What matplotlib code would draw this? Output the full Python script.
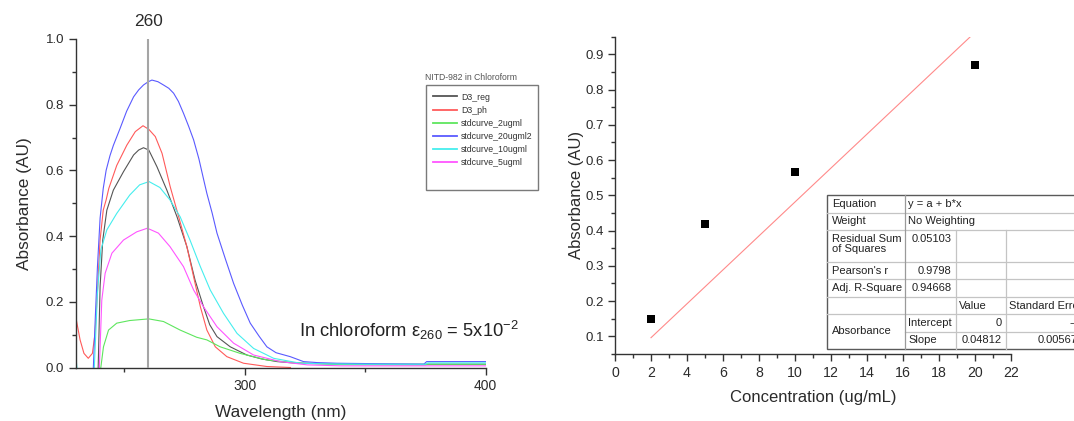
import matplotlib
matplotlib.use("Agg")
import matplotlib.pyplot as plt
from matplotlib.ticker import MultipleLocator, FormatStrFormatter
from matplotlib.patches import Rectangle

plt.rcParams['font.family'] = ['Liberation Sans', 'DejaVu Sans']
plt.rcParams['mathtext.fontset'] = 'custom'
plt.rcParams['mathtext.rm'] = 'Liberation Sans'
plt.rcParams['mathtext.it'] = 'Liberation Sans:italic'

W, H = 1074, 421
INK = '#2b2b2b'

# ---- UV spectra (wavelength nm, absorbance AU)
reg_wl = [239.2, 240.0, 241.1, 242.8, 245.5, 249.7, 253.9, 256.0, 258.0, 260.2, 263.6,
          267.7, 271.9, 276.0, 279.4, 282.9, 285.5, 288.5, 294.0, 300.9, 307.0, 313.4,
          320.0, 330.0, 345.0, 400.0]
reg_abs = [0.0, 0.246, 0.388, 0.479, 0.540, 0.596, 0.647, 0.662, 0.669, 0.662, 0.611,
           0.540, 0.459, 0.368, 0.266, 0.185, 0.130, 0.094, 0.063, 0.038, 0.026, 0.018,
           0.014, 0.012, 0.010, 0.010]

ph_wl = [230.0, 231.7, 233.3, 235.1, 236.8, 237.9, 239.0, 240.0, 241.3, 242.5, 243.6,
         246.9, 251.1, 254.6, 257.8, 260.2, 262.9, 265.7, 269.1, 272.6, 276.0, 278.8,
         281.6, 284.3, 287.8, 292.6, 299.5, 309.2, 319.0]
ph_abs = [0.150, 0.084, 0.043, 0.028, 0.043, 0.104, 0.246, 0.388, 0.479, 0.510, 0.545,
          0.615, 0.677, 0.718, 0.736, 0.725, 0.703, 0.652, 0.550, 0.459, 0.368, 0.276,
          0.185, 0.114, 0.063, 0.033, 0.013, 0.003, 0.0]

s2_wl = [240.3, 241.4, 243.5, 246.9, 252.3, 260.2, 266.3, 273.2, 280.1, 284.3, 289.8,
         298.1, 309.2, 323.1, 340.0, 375.0, 376.0, 400.0]
s2_abs = [0.0, 0.063, 0.114, 0.135, 0.143, 0.148, 0.140, 0.114, 0.092, 0.084, 0.063,
          0.043, 0.023, 0.013, 0.009, 0.008, 0.010, 0.010]

s20_wl = [237.2, 238.0, 238.9, 240.0, 241.3, 242.5, 244.1, 245.5, 248.3, 251.0, 253.9,
          256.0, 258.0, 260.0, 261.5, 264.0, 266.3, 268.5, 270.5, 272.5, 274.6, 276.7,
          278.8, 281.0, 283.0, 284.3, 286.5, 288.5, 292.0, 295.4, 299.0, 302.3, 306.0,
          309.2, 313.0, 318.9, 324.4, 330.0, 338.2, 350.0, 374.3, 375.5, 400.0]
s20_abs = [0.0, 0.15, 0.307, 0.455, 0.545, 0.600, 0.645, 0.676, 0.728, 0.780, 0.824,
           0.845, 0.860, 0.870, 0.875, 0.870, 0.860, 0.850, 0.835, 0.810, 0.774, 0.735,
           0.693, 0.635, 0.571, 0.530, 0.470, 0.409, 0.330, 0.256, 0.190, 0.135, 0.095,
           0.063, 0.045, 0.033, 0.018, 0.015, 0.013, 0.012, 0.010, 0.018, 0.018]

s10_wl = [230.0, 231.0, 236.0, 237.6, 238.9, 240.3, 242.8, 246.9, 252.3, 256.4, 260.3,
          264.8, 269.0, 273.2, 277.3, 281.6, 285.7, 291.2, 296.8, 303.7, 312.0, 323.1,
          335.0, 350.0, 375.0, 376.0, 400.0]
s10_abs = [0.03, -0.05, -0.05, 0.0, 0.226, 0.358, 0.419, 0.469, 0.525, 0.556, 0.566,
           0.548, 0.510, 0.459, 0.388, 0.307, 0.236, 0.165, 0.104, 0.058, 0.028, 0.013,
           0.011, 0.010, 0.010, 0.014, 0.014]

s5_wl = [239.7, 240.7, 242.1, 244.9, 249.7, 255.2, 259.6, 264.2, 269.0, 274.6, 278.8,
         282.9, 288.5, 295.4, 303.7, 314.8, 325.9, 340.0, 400.0]
s5_abs = [0.0, 0.205, 0.287, 0.348, 0.388, 0.413, 0.424, 0.409, 0.368, 0.307, 0.236,
          0.185, 0.124, 0.074, 0.038, 0.018, 0.008, 0.005, 0.005]

spectra = [
    ('D3_reg', reg_wl, reg_abs, '#555555'),
    ('D3_ph', ph_wl, ph_abs, '#ff5a5a'),
    ('stdcurve_2ugml', s2_wl, s2_abs, '#5ee65e'),
    ('stdcurve_20ugml2', s20_wl, s20_abs, '#5a5aff'),
    ('stdcurve_10ugml', s10_wl, s10_abs, '#45eeee'),
    ('stdcurve_5ugml', s5_wl, s5_abs, '#ff55ff'),
]
peak_wl = 260

# ---- standard curve
conc = [2, 5, 10, 20]
conc_abs = [0.148, 0.42, 0.565, 0.87]
fit_intercept = 0.0
fit_slope = 0.04812
fit_x = [2, 20]

# ---- fit report table text
stat_names = ['Equation', 'Weight', 'Residual Sum\nof Squares', "Pearson's r", 'Adj. R-Square']
stat_values = ['y = a + b*x', 'No Weighting', '0.05103', '0.9798', '0.94668']
param_header = ['Value', 'Standard Error']
param_group = 'Absorbance'
param_rows = [['Intercept', '0', '--'], ['Slope', '0.04812', '0.00567']]


def style_axes(ax):
    for side in ['top', 'right']:
        ax.spines[side].set_visible(False)
    for side in ['left', 'bottom']:
        ax.spines[side].set_linewidth(1.0)
        ax.spines[side].set_color('#333333')
    ax.tick_params(which='both', direction='out', width=1.0, color='#333333',
                   labelcolor=INK)
    ax.tick_params(which='major', length=4.8)
    ax.tick_params(which='minor', length=2.6)


fig = plt.figure(figsize=(W / 100, H / 100), dpi=100)

# ================= left: spectra
ax1 = fig.add_axes([76 / W, 1 - 367.5 / H, 409.7 / W, 328.5 / H])
style_axes(ax1)
for name, wl, ab, col in spectra:
    ax1.plot(wl, ab, color=col, lw=0.8, label=name)
ax1.axvline(peak_wl, color='#a5a5a5', lw=1.5, zorder=3)
ax1.set_xlim(230, 400)
ax1.set_ylim(0, 1.0)
ax1.xaxis.set_major_locator(MultipleLocator(100))
ax1.xaxis.set_minor_locator(MultipleLocator(50))
ax1.yaxis.set_major_locator(MultipleLocator(0.2))
ax1.yaxis.set_minor_locator(MultipleLocator(0.1))
ax1.yaxis.set_major_formatter(FormatStrFormatter('%.1f'))
ax1.tick_params(axis='y', labelsize=9.5, pad=3.8)
ax1.tick_params(axis='x', labelsize=10, pad=3.5)
ax1.set_xlabel('Wavelength (nm)', fontsize=12.4, color=INK, va='baseline')
ax1.xaxis.set_label_coords(0.5, (367.5 - 416.7) / 328.5)
ax1.set_ylabel('Absorbance (AU)', fontsize=12.4, color=INK, va='baseline')
ax1.yaxis.set_label_coords(-(76 - 28.5) / 409.7, 0.5)
ax1.annotate(str(peak_wl), xy=(peak_wl, 1.0), xytext=(0, 12.5), textcoords='offset points',
             ha='center', va='center', fontsize=12.4, color=INK)

leg = ax1.legend(loc='upper left', bbox_to_anchor=(433 / W, 1 - 92.5 / H),
                 bbox_transform=fig.transFigure, frameon=False, fontsize=6.3,
                 handlelength=2.75, handletextpad=0.45, labelspacing=0.47,
                 borderpad=0, borderaxespad=0, labelcolor='#333333')
for ln in leg.get_lines():
    ln.set_linewidth(1.3)

# ================= right: standard curve
ax2 = fig.add_axes([615 / W, 1 - 354 / H, 396 / W, 317.3 / H])
style_axes(ax2)
ax2.plot(fit_x, [fit_intercept + fit_slope * x for x in fit_x], color='#ff8a8a', lw=0.8)
ax2.plot(conc, conc_abs, 's', color='black', ms=5.3, mew=0, zorder=4)
ax2.set_xlim(0, 22)
ax2.set_ylim(0.05, 0.95)
ax2.xaxis.set_major_locator(MultipleLocator(2))
ax2.xaxis.set_minor_locator(MultipleLocator(1))
ax2.yaxis.set_major_locator(MultipleLocator(0.1))
ax2.yaxis.set_minor_locator(MultipleLocator(0.05))
ax2.yaxis.set_major_formatter(FormatStrFormatter('%.1f'))
ax2.tick_params(axis='y', labelsize=9.5, pad=3.1)
ax2.tick_params(axis='x', labelsize=10.2, pad=3.5)
ax2.set_xlabel('Concentration (ug/mL)', fontsize=12, color=INK, va='baseline')
ax2.xaxis.set_label_coords(0.5, (354 - 401.7) / 317.3)
ax2.set_ylabel('Absorbance (AU)', fontsize=12, color=INK, va='baseline')
ax2.yaxis.set_label_coords((581 - 615) / 396, 0.5)

# ================= overlay in pixel coordinates (legend frame, note, table)
ov = fig.add_axes([0, 0, 1, 1])
ov.set_xlim(0, W)
ov.set_ylim(H, 0)
ov.axis('off')

ov.text(425, 77.7, 'NITD-982 in Chloroform', fontsize=6.2, color='#555555',
        ha='left', va='center')
ov.add_patch(Rectangle((425.7, 85), 112.6, 105, fill=False, ec='#7a7a7a', lw=1.0))

ov.text(409, 336.7, r'In chloroform ε$_{260}$ = 5x10$^{-2}$', fontsize=13.2,
        color='#222222', ha='center', va='baseline')

# the report table runs past the right edge of the figure, as in the source
rows = [195, 212.7, 230, 261.7, 279.3, 297.3, 314, 331.7, 349]
cols = [827.3, 905, 956, 1006, 1086]
light = '#c4c4c4'
ov.add_patch(Rectangle((cols[0], rows[0]), cols[-1] - cols[0], rows[-1] - rows[0],
                       fc='white', ec='#5a5a5a', lw=1.0, zorder=2))
for y in rows[1:-1]:
    x0 = cols[1] if y == rows[7] else cols[0]
    ov.plot([x0, cols[-1]], [y, y], color=light, lw=0.9, zorder=3)
ov.plot([cols[1], cols[1]], [rows[0], rows[-1]], color='#9a9a9a', lw=0.9, zorder=3)
for x in cols[2:4]:
    ov.plot([x, x], [rows[2], rows[-1]], color=light, lw=0.9, zorder=3)

tfs = 8
tc = '#222222'
padl, padr = 4.4, 4.5
for i, (nm, val) in enumerate(zip(stat_names, stat_values)):
    yc = (rows[i] + rows[i + 1]) / 2
    if i == 2:
        ov.text(cols[0] + padl, rows[i] + 3.5, nm, fontsize=tfs, color=tc, ha='left',
                va='top', linespacing=1.1, zorder=4)
        ov.text(cols[2] - padr, rows[i] + 3.5, val, fontsize=tfs, color=tc, ha='right',
                va='top', zorder=4)
        continue
    ov.text(cols[0] + padl, yc, nm, fontsize=tfs, color=tc, ha='left', va='center', zorder=4)
    if i < 2:
        ov.text(cols[1] + 3.3, yc, val, fontsize=tfs, color=tc, ha='left', va='center', zorder=4)
    else:
        ov.text(cols[2] - padr, yc, val, fontsize=tfs, color=tc, ha='right', va='center', zorder=4)

yc = (rows[5] + rows[6]) / 2
for j, hd in enumerate(param_header):
    ov.text(cols[2 + j] + 3.3, yc, hd, fontsize=tfs, color=tc, ha='left', va='center', zorder=4)
ov.text(cols[0] + padl, (rows[6] + rows[8]) / 2, param_group, fontsize=tfs, color=tc,
        ha='left', va='center', zorder=4)
for k, (pname, pval, perr) in enumerate(param_rows):
    yc = (rows[6 + k] + rows[7 + k]) / 2
    ov.text(cols[1] + 3.3, yc, pname, fontsize=tfs, color=tc, ha='left', va='center', zorder=4)
    ov.text(cols[3] - padr, yc, pval, fontsize=tfs, color=tc, ha='right', va='center', zorder=4)
    ov.text(cols[4] - 9, yc, perr, fontsize=tfs, color=tc, ha='right', va='center', zorder=4)

fig.savefig('out.png', dpi=100)
